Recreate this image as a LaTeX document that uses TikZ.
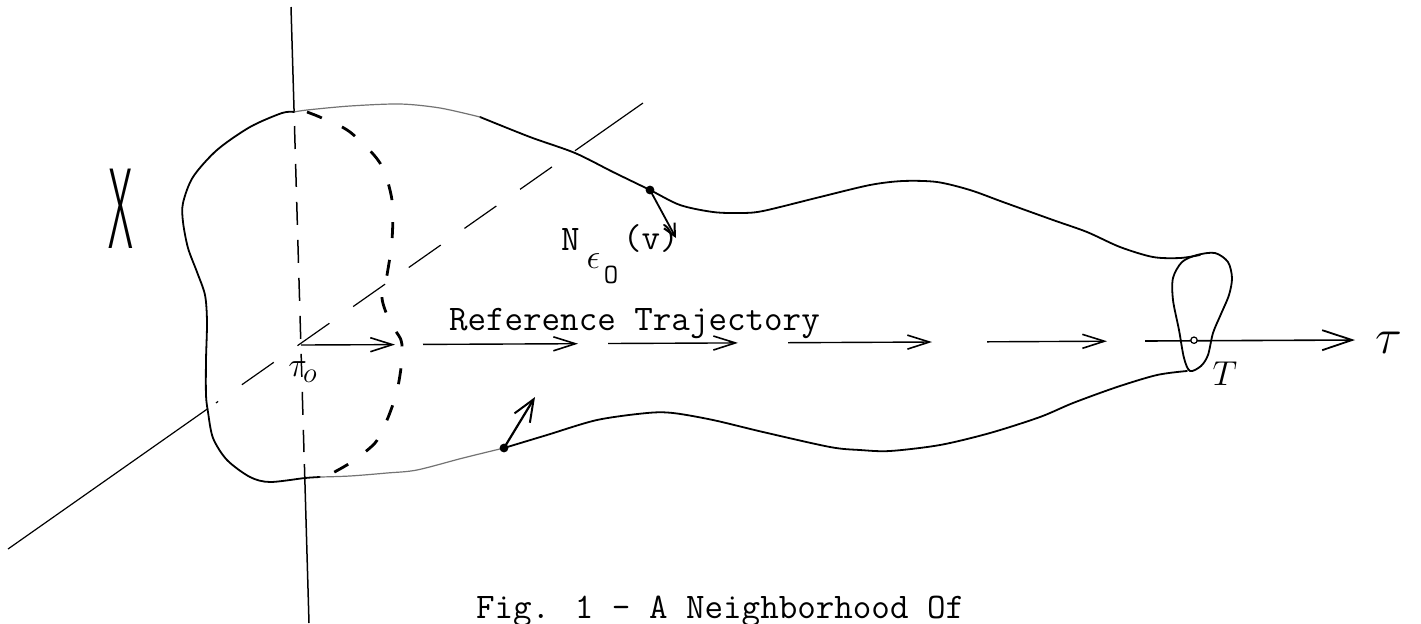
\documentclass[tikz,border=0pt]{standalone}
\usepackage{graphicx}
\usepackage{fontspec}
\newfontfamily\xlight{Fira Sans Light}
\usetikzlibrary{arrows.meta}
\begin{document}
\begin{tikzpicture}[x=0.5pt,y=-0.5pt,
  outline/.style={line width=0.9pt, line join=round, line cap=round},
  faint/.style={line width=0.6pt, black!55, line cap=round},
  axis/.style={line width=0.75pt},
  axdash/.style={line width=0.75pt, dash pattern=on 11.5pt off 7.5pt},
  diag/.style={line width=0.6pt},
  diagdash/.style={line width=0.6pt, dash pattern=on 19.5pt off 14.5pt},
  sect/.style={line width=1.4pt, dash pattern=on 8pt off 11pt},
  traj/.style={line width=0.7pt, -{Straight Barb[length=11pt,width=7pt,line width=0.8pt]}},
  lbl/.style={inner sep=0pt, outer sep=0pt},
  tt/.style={lbl, font=\fontsize{18}{20}\selectfont\ttfamily},
]
\useasboundingbox (0,0) rectangle (1421,623);
\fill[white] (0,0) rectangle (1421,623);

% ---- vertical axis
\coordinate (vtop) at (291,7);
\coordinate (vtj) at (294.1,112);
\coordinate (vd1) at (294.5,126);
\coordinate (vd2) at (304,452);
\coordinate (vbj) at (304.4,464);
\coordinate (vbot) at (309,623);
\draw[axis] (vtop) -- (vtj);
\draw[axdash] (vd1) -- (vd2);
\draw[axis] (vbj) -- (vbot);

% ---- diagonal axis
\coordinate (dtop) at (643,103);
\coordinate (dtj) at (575,150.7);
\coordinate (dd1) at (552,166.9);
\coordinate (dd2) at (216,402.9);
\coordinate (dbj) at (208,408.5);
\coordinate (dbot) at (8,549);
\draw[diag] (dtop) -- (dtj);
\draw[diagdash] (dd1) -- (dd2);
\draw[diag] (dbj) -- (dbot);

% ---- tube outline
\draw[outline] plot[smooth] coordinates {(1200,255) (1180,258) (1153,257) (1120,247) (1087,232) (1053,220) (1003,202) (970,190) (937,182) (903,181) (870,185) (820,197) (763,211) (740,213) (713,212) (680,205) (650,190) (613,172) (575,153) (530,137) (480,117)};
\draw[faint] plot[smooth] coordinates {(480,117) (440,108) (400,104) (350,106) (307,110) (294,112)};
\draw[outline] plot[smooth] coordinates {(294,112) (282,113) (250,127) (217,150) (193,177) (183,203) (183,222) (188,248) (197,272) (205,295) (207,322) (206,360) (206,395) (208,412) (213,438) (227,460) (250,477) (270,482) (305,478) (320,477)};
\draw[faint] plot[smooth] coordinates {(320,477) (350,476) (387,473) (417,470) (463,458) (504,448)};
\draw[outline] plot[smooth] coordinates {(504,448) (547,435) (597,420) (647,413) (673,413) (713,420) (763,432) (830,447) (860,450) (890,451) (940,445) (990,433) (1040,417) (1073,403) (1117,387) (1157,375) (1187,371)};

% ---- end loop at T
\draw[outline] plot[smooth cycle] coordinates {(1197,255) (1215,253) (1228,262) (1232,278) (1229,295) (1221,314) (1213,333) (1208,355) (1201,366) (1190,371) (1184,358) (1179,330) (1173,300) (1173,278) (1182,262)};

% ---- cross-section at tau_0
\draw[sect] plot[smooth] coordinates {(307,112) (322,118) (350,132) (380,163) (392,200) (392,240) (387,275) (382,298) (390,322) (401,340) (402,357) (400,375) (396,395) (387,420) (375,443) (350,463) (325,477)};

% ---- reference trajectory
\coordinate (o) at (301,345);
\coordinate (a1) at (395,344.6);
\coordinate (b0) at (423,344.4);
\coordinate (b1) at (578,343.7);
\coordinate (c0) at (608,343.5);
\coordinate (c1) at (738,342.9);
\coordinate (d0) at (788,342.7);
\coordinate (d1) at (932,342.0);
\coordinate (e0) at (987,341.8);
\coordinate (e1) at (1107,341.2);
\coordinate (f0) at (1145,341.0);
\coordinate (f1) at (1355,340.0);
\draw[traj] (o) -- (a1);
\draw[traj] (b0) -- (b1);
\draw[traj] (c0) -- (c1);
\draw[traj] (d0) -- (d1);
\draw[traj] (e0) -- (e1);
\draw[line width=0.8pt, -{Straight Barb[length=15pt,width=10pt,line width=0.9pt]}] (f0) -- (f1);
\coordinate (tdot) at (1194,340.2);
\draw[line width=0.6pt, fill=white] (tdot) circle (1.6pt);

% ---- boundary vectors
\coordinate (nd) at (650,190);
\coordinate (nt) at (676,238);
\fill (nd) circle (2.2pt);
\draw[line width=0.9pt, -{Straight Barb[length=6pt,width=6pt,line width=1pt]}] (nd) -- (nt);
\coordinate (ld) at (504,448);
\coordinate (lt) at (535,397);
\fill (ld) circle (2.2pt);
\draw[line width=1.1pt, -{Straight Barb[length=11pt,width=9pt,line width=1pt]}] (ld) -- (lt);

% ---- labels
\node[tt, anchor=base west] (reftxt) at (449,330) {Reference Trajectory};
\node[tt, anchor=base west] (cap) at (476,618) {Fig. 1 - A Neighborhood Of};
\node[tt, anchor=base west] (nN) at (561,250) {N};
\node[lbl, font=\fontsize{18}{20}\selectfont] (neps) at (593.5,261) {$\epsilon$};
\node[lbl, font=\fontsize{14}{16}\selectfont\ttfamily] (nO) at (611,275) {O};
\node[tt, anchor=base west] (nv) at (623,249) {(v)};
\node[lbl, font=\fontsize{19}{21}\selectfont] (tau0) at (303,372) {$\tau_{o}$};
\node[lbl, font=\fontsize{30}{32}\selectfont] (tauR) at (1389,343) {$\tau$};
\node[lbl, font=\fontsize{17}{20}\selectfont] (Tl) at (1225,374) {$T$};
\node[lbl] (Xl) at (120.5,208.5) {\scalebox{1.2}[2.9]{\fontsize{20}{22}\selectfont\xlight X}};
\end{tikzpicture}
\end{document}
